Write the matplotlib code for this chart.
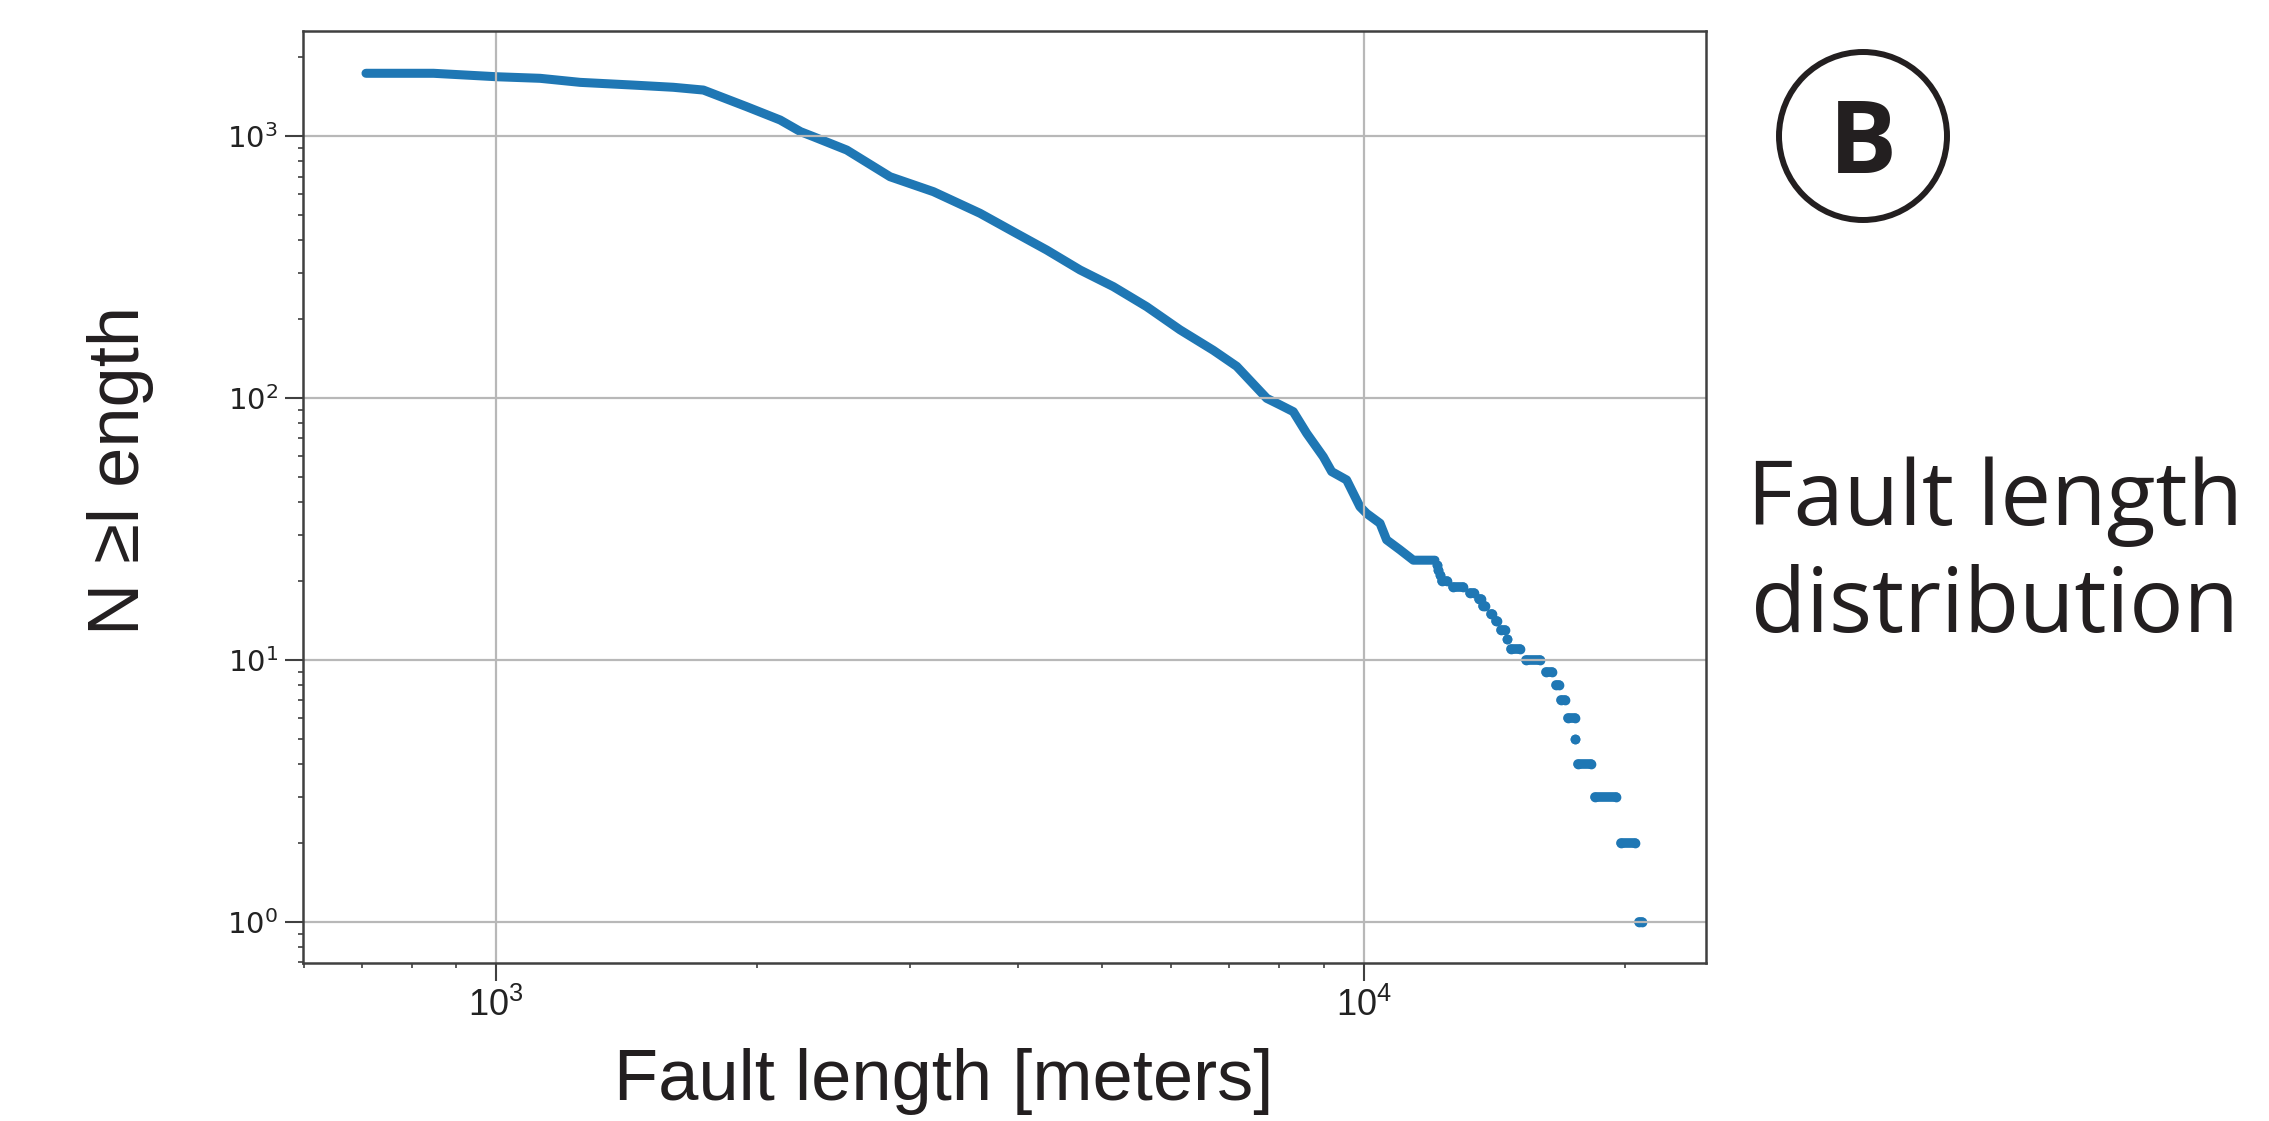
import matplotlib
matplotlib.use("Agg")
import matplotlib.pyplot as plt
from matplotlib.patches import Ellipse

# Dense part of the curve: fault length [m] and number of faults >= length
curve_length = [708, 847, 1002, 1124, 1250, 1440, 1601, 1734, 1945, 2126,
                2244, 2322, 2537, 2846, 3193, 3613, 3948, 4313, 4712, 5147,
                5624, 6143, 6711, 7141, 7735, 8013, 8299, 8600, 8987, 9189,
                9561, 9906, 10083, 10447, 10632, 11015, 11413, 12089]
curve_count = [1736, 1736, 1684, 1661, 1603, 1565, 1535, 1498, 1294, 1151,
               1039, 994, 884, 699, 613, 507, 431, 367, 308, 266,
               223, 182, 152, 132, 99.6, 94, 88.6, 73.2, 59.6, 52.3,
               48.6, 38.4, 36.2, 33.2, 28.7, 26.3, 24, 24]

# Tail: runs of points sharing the same count
tail_count = [23, 22, 21, 20, 19, 18, 17, 16, 15, 14, 13, 12, 11,
              10, 9, 8, 7, 6, 5, 4, 3, 2, 1]
tail_start = [12150, 12190, 12240, 12300, 12695, 13283, 13590, 13740, 14010,
              14198, 14388, 14636, 14775, 15372, 16212, 16646, 16913, 17230,
              17530, 17693, 18507, 19783, 20750]
tail_end = [12150, 12190, 12240, 12465, 13037, 13390, 13660, 13800, 14048,
            14235, 14541, 14636, 15131, 15955, 16472, 16780, 17050, 17507,
            17530, 18312, 19570, 20530, 20920]

x_ticks = [1e3, 1e4]
y_ticks = [1e0, 1e1, 1e2, 1e3]

BLUE = "#1f77b4"
INK = "#231f20"
W, H = 2269, 1121


def fx(px):
    return px / W


def fy(py):
    return 1 - py / H


def main():
    fig = plt.figure(figsize=(W / 100, H / 100), dpi=100)
    ax = fig.add_axes([fx(303), fy(963), fx(1706) - fx(303), fy(31) - fy(963)])

    # main curve (dense dots look like a thick line)
    ax.plot(curve_length, curve_count, color=BLUE, lw=6.5,
            solid_capstyle="round", solid_joinstyle="round", zorder=1)

    # tail runs
    for c, a, b in zip(tail_count, tail_start, tail_end):
        ax.plot([a, b], [c, c], color=BLUE, lw=7, marker="o", ms=7, mew=0,
                solid_capstyle="round", zorder=1)

    ax.set_xscale("log")
    ax.set_yscale("log")
    ax.set_xlim(599, 24820)
    ax.set_ylim(0.695, 2518)
    ax.set_xticks(x_ticks)
    ax.set_yticks(y_ticks)

    ax.grid(True, which="major", color="#b8b8b8", lw=1.6, zorder=1.5)
    for sp in ax.spines.values():
        sp.set_color("#404040")
        sp.set_linewidth(1.8)

    ax.tick_params(which="major", length=13, width=1.5, color="#404040")
    ax.tick_params(which="minor", length=3.5, width=1.2, color="#404040")
    ax.tick_params(axis="y", which="major", labelsize=21, pad=5,
                   labelcolor="#222222")
    ax.xaxis.set_tick_params(which="major", labelsize=26, pad=5,
                             labelcolor="#222222",
                             labelfontfamily=["Liberation Sans",
                                              "DejaVu Sans"])

    # axis labels drawn as figure text to match placement
    fig.text(fx(120), fy(470), "N ≥l ength", rotation=90, ha="center",
             va="center", fontsize=52, color=INK,
             family=["Liberation Sans", "DejaVu Sans"])
    fig.text(fx(944), fy(1100), "Fault length [meters]", ha="center",
             va="baseline", fontsize=52, color=INK,
             family=["Liberation Sans", "DejaVu Sans"])

    # panel label and title on the right
    circ = Ellipse((fx(1863), fy(136)), 168 / W, 168 / H,
                   transform=fig.transFigure, fill=False,
                   edgecolor=INK, lw=4.3)
    fig.add_artist(circ)
    fig.text(fx(1863), fy(173), "B", ha="center", va="baseline",
             fontsize=73, fontweight="bold", color=INK,
             family=["Open Sans", "DejaVu Sans"])
    fig.text(fx(1995), fy(525), "Fault length", ha="center", va="baseline",
             fontsize=65, color=INK, family=["Open Sans", "DejaVu Sans"])
    fig.text(fx(1995), fy(632), "distribution", ha="center", va="baseline",
             fontsize=65, color=INK, family=["Open Sans", "DejaVu Sans"])

    fig.savefig("out.png", dpi=100)


if __name__ == "__main__":
    main()
